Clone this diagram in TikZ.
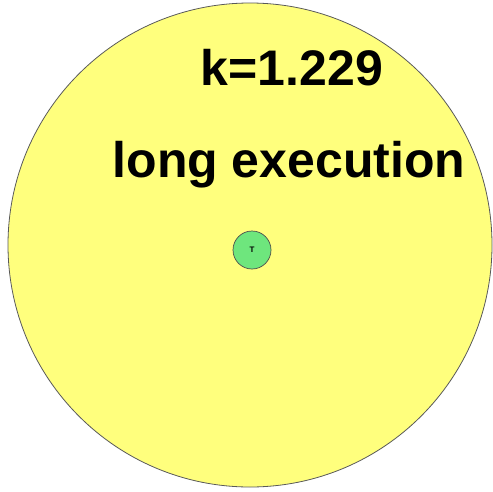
\documentclass[tikz,border=0pt]{standalone}
\usepackage{fontspec}
\setmainfont{Liberation Sans}
\usepackage{xcolor}
\usepackage{tikz}
\usetikzlibrary{positioning}

\definecolor{ballyellow}{RGB}{255,255,125}
\definecolor{ballgreen}{RGB}{110,230,125}

\begin{document}
\begin{tikzpicture}[
    x=1pt, y=1pt,
    ball/.style={circle, draw=gray!70!black, line width=0.8pt, fill=ballyellow, inner sep=0pt},
    seed/.style={circle, draw=black!70, line width=0.7pt, fill=ballgreen, inner sep=0pt, minimum size=38pt},
    label/.style={font=\fontsize{50}{60}\selectfont\bfseries, inner sep=0pt, anchor=base},
]
\useasboundingbox (0,0) rectangle (493,-491);
\node[ball, minimum size=484pt] (outer) at (250,-245) {};
\node[seed] (inner) at (252,-250) {};
\node[font=\fontsize{8}{8}\selectfont\bfseries, inner sep=0pt] (mark) at (inner) {T};
\node[label] (kval) at (292,-85) {k=1.229};
\node[label] (exec) at (289,-177) {long execution};
\end{tikzpicture}
\end{document}
